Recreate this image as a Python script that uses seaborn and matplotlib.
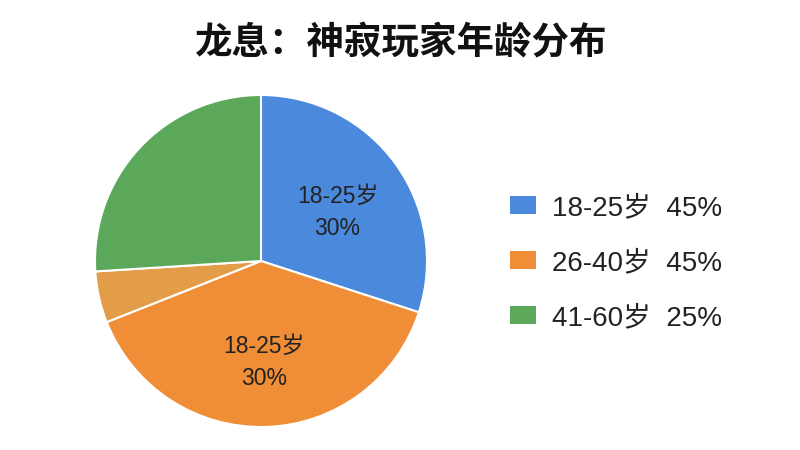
import matplotlib
matplotlib.use("Agg")
import matplotlib.pyplot as plt
import seaborn as sns

# Data
slice_values = [30, 39, 5, 26]
slice_labels = ["18-25岁\n30%", "18-25岁\n30%", "", ""]
slice_colors = ["#4A89DC", "#F08D37", "#E39C48", "#5BA85B"]
legend_labels = ["18-25岁  45%", "26-40岁  45%", "41-60岁  25%"]
legend_slice_index = [0, 1, 3]
title = "龙息：神寂玩家年龄分布"

sns.set_theme(style="white")
plt.rcParams['font.family'] = ['Liberation Sans', 'Noto Sans CJK SC', 'DejaVu Sans']

fig = plt.figure(figsize=(8, 4.5), dpi=100)
fig.patch.set_facecolor("white")

cx, cy, r = 261, 261, 166
ax = fig.add_axes([(cx - r) / 800, (450 - cy - r) / 450, 2 * r / 800, 2 * r / 450])

wedges, texts = ax.pie(
    slice_values,
    labels=slice_labels,
    colors=slice_colors,
    startangle=90,
    counterclock=False,
    labeldistance=0.57,
    wedgeprops=dict(edgecolor="white", linewidth=1.5),
    textprops=dict(fontsize=16.5, color="#222222"),
)
for t in texts:
    t.set_ha("center")
    t.set_va("center_baseline")
    t.set_linespacing(1.52)
ax.set_xlim(-1.0, 1.0)
ax.set_ylim(-1.0, 1.0)
ax.set_aspect("equal")
ax.axis("off")

leg = fig.legend(
    handles=[wedges[i] for i in legend_slice_index],
    labels=legend_labels,
    loc="center left",
    bbox_to_anchor=(485 / 800, 1 - 263 / 450),
    frameon=False,
    fontsize=20,
    handlelength=0.93,
    handleheight=0.62,
    handletextpad=0.6,
    labelspacing=1.05,
    labelcolor="#222222",
)
for h in leg.legend_handles:
    h.set_edgecolor("none")

fig.text(0.5, 1 - 43 / 450, title, ha="center", va="center",
         fontsize=27, fontweight="bold", color="#111111",
         family=['Noto Sans CJK SC', 'DejaVu Sans'])

fig.savefig("out.png", dpi=100, facecolor="white")
